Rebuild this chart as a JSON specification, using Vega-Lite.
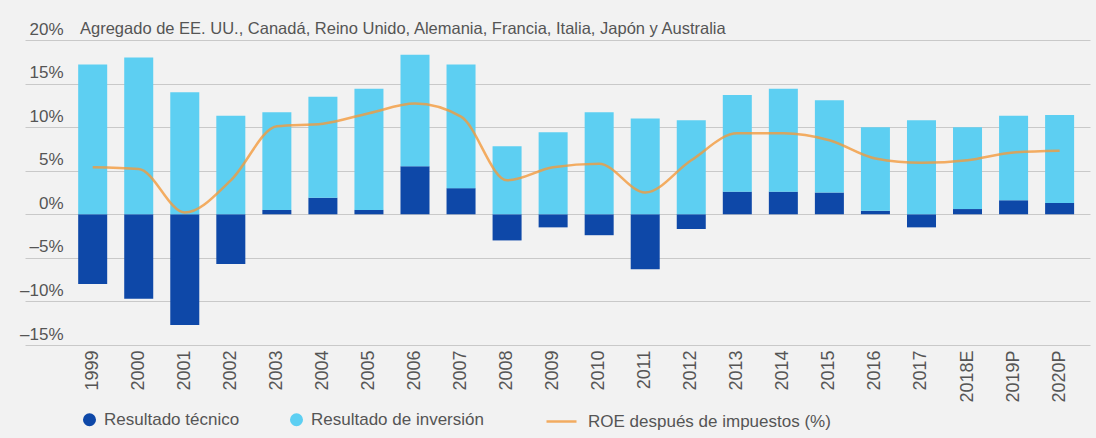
{
  "$schema": "https://vega.github.io/schema/vega-lite/v6.json",
  "width": 1065,
  "height": 305,
  "autosize": {"type": "none"},
  "padding": {"left": 25, "top": 40, "right": 6, "bottom": 93},
  "background": "#f2f2f2",
  "config": {"view": {"stroke": null}, "font": "Liberation Sans"},
  "title": {
    "text": "Agregado de EE. UU., Canadá, Reino Unido, Alemania, Francia, Italia, Japón y Australia",
    "anchor": "start", "frame": "group", "dx": 55, "offset": -30, "baseline": "alphabetic",
    "fontSize": 16.5, "fontWeight": "normal", "color": "#555555"
  },
  "datasets": {
    "bars": [
      {"year": "1999", "serie": "Resultado técnico", "value": -8.0},
      {"year": "1999", "serie": "Resultado de inversión", "value": 17.2},
      {"year": "2000", "serie": "Resultado técnico", "value": -9.7},
      {"year": "2000", "serie": "Resultado de inversión", "value": 18.0},
      {"year": "2001", "serie": "Resultado técnico", "value": -12.7},
      {"year": "2001", "serie": "Resultado de inversión", "value": 14.0},
      {"year": "2002", "serie": "Resultado técnico", "value": -5.7},
      {"year": "2002", "serie": "Resultado de inversión", "value": 11.3},
      {"year": "2003", "serie": "Resultado técnico", "value": 0.5},
      {"year": "2003", "serie": "Resultado de inversión", "value": 11.2},
      {"year": "2004", "serie": "Resultado técnico", "value": 1.9},
      {"year": "2004", "serie": "Resultado de inversión", "value": 11.6},
      {"year": "2005", "serie": "Resultado técnico", "value": 0.5},
      {"year": "2005", "serie": "Resultado de inversión", "value": 13.9},
      {"year": "2006", "serie": "Resultado técnico", "value": 5.5},
      {"year": "2006", "serie": "Resultado de inversión", "value": 12.8},
      {"year": "2007", "serie": "Resultado técnico", "value": 3.0},
      {"year": "2007", "serie": "Resultado de inversión", "value": 14.2},
      {"year": "2008", "serie": "Resultado técnico", "value": -3.0},
      {"year": "2008", "serie": "Resultado de inversión", "value": 7.8},
      {"year": "2009", "serie": "Resultado técnico", "value": -1.5},
      {"year": "2009", "serie": "Resultado de inversión", "value": 9.4},
      {"year": "2010", "serie": "Resultado técnico", "value": -2.4},
      {"year": "2010", "serie": "Resultado de inversión", "value": 11.7},
      {"year": "2011", "serie": "Resultado técnico", "value": -6.3},
      {"year": "2011", "serie": "Resultado de inversión", "value": 11.0},
      {"year": "2012", "serie": "Resultado técnico", "value": -1.7},
      {"year": "2012", "serie": "Resultado de inversión", "value": 10.8},
      {"year": "2013", "serie": "Resultado técnico", "value": 2.6},
      {"year": "2013", "serie": "Resultado de inversión", "value": 11.1},
      {"year": "2014", "serie": "Resultado técnico", "value": 2.6},
      {"year": "2014", "serie": "Resultado de inversión", "value": 11.8},
      {"year": "2015", "serie": "Resultado técnico", "value": 2.5},
      {"year": "2015", "serie": "Resultado de inversión", "value": 10.6},
      {"year": "2016", "serie": "Resultado técnico", "value": 0.4},
      {"year": "2016", "serie": "Resultado de inversión", "value": 9.6},
      {"year": "2017", "serie": "Resultado técnico", "value": -1.5},
      {"year": "2017", "serie": "Resultado de inversión", "value": 10.8},
      {"year": "2018E", "serie": "Resultado técnico", "value": 0.6},
      {"year": "2018E", "serie": "Resultado de inversión", "value": 9.4},
      {"year": "2019P", "serie": "Resultado técnico", "value": 1.6},
      {"year": "2019P", "serie": "Resultado de inversión", "value": 9.7},
      {"year": "2020P", "serie": "Resultado técnico", "value": 1.3},
      {"year": "2020P", "serie": "Resultado de inversión", "value": 10.1}
    ],
    "roe": [
      {"year": "1999", "roe": 5.4},
      {"year": "2000", "roe": 5.2},
      {"year": "2001", "roe": 0.2},
      {"year": "2002", "roe": 3.9},
      {"year": "2003", "roe": 10.1},
      {"year": "2004", "roe": 10.4},
      {"year": "2005", "roe": 11.6},
      {"year": "2006", "roe": 12.7},
      {"year": "2007", "roe": 11.2},
      {"year": "2008", "roe": 3.9},
      {"year": "2009", "roe": 5.4},
      {"year": "2010", "roe": 5.8},
      {"year": "2011", "roe": 2.5},
      {"year": "2012", "roe": 6.2},
      {"year": "2013", "roe": 9.3},
      {"year": "2014", "roe": 9.3},
      {"year": "2015", "roe": 8.5},
      {"year": "2016", "roe": 6.4},
      {"year": "2017", "roe": 5.9},
      {"year": "2018E", "roe": 6.2},
      {"year": "2019P", "roe": 7.1},
      {"year": "2020P", "roe": 7.3}
    ]
  },
  "layer": [
    {
      "data": {"name": "bars"},
      "mark": {"type": "bar"},
      "encoding": {
        "x": {
          "field": "year", "type": "ordinal",
          "scale": {"paddingInner": 0.37, "paddingOuter": 0.75, "align": 0.77},
          "axis": {
            "title": null, "labelAngle": -90, "labelAlign": "right", "labelBaseline": "middle",
            "labelPadding": 5, "ticks": false, "domain": false, "labelFontSize": 18, "labelColor": "#555555"
          }
        },
        "y": {
          "field": "value", "type": "quantitative", "stack": "zero",
          "scale": {"domain": [-15, 20], "nice": false},
          "axis": {
            "title": null, "values": [-15, -10, -5, 0, 5, 10, 15, 20],
            "labelExpr": "(datum.value < 0 ? '–' + abs(datum.value) : datum.value) + '%'",
            "domain": false, "ticks": false, "labelPadding": -38, "labelAlign": "right",
            "labelBaseline": "alphabetic", "labelOffset": -6, "labelFontSize": 17, "labelColor": "#555555",
            "gridColor": "#c9c9c9", "gridWidth": 1.2
          }
        },
        "color": {
          "field": "serie", "type": "nominal",
          "scale": {"domain": ["Resultado técnico", "Resultado de inversión"], "range": ["#0e48a8", "#5dcff2"]},
          "legend": {
            "orient": "none", "legendX": 56, "legendY": 371, "direction": "horizontal", "title": null,
            "symbolType": "circle", "symbolSize": 170, "labelFontSize": 17, "labelColor": "#555555",
            "labelOffset": 6, "columnPadding": 48, "symbolStrokeWidth": 0, "labelLimit": 400
          }
        },
        "order": {"field": "serie", "sort": "descending"}
      }
    },
    {
      "data": {"name": "roe"},
      "mark": {"type": "line", "interpolate": "monotone", "strokeWidth": 2.5, "opacity": 0.8},
      "encoding": {
        "x": {"field": "year", "type": "ordinal"},
        "y": {"field": "roe", "type": "quantitative"},
        "stroke": {
          "datum": "ROE después de impuestos (%)",
          "scale": {"range": ["#f39a3c"]},
          "legend": {
            "orient": "none", "legendX": 520, "legendY": 365, "title": null,
            "symbolType": "stroke", "symbolSize": 900, "symbolStrokeWidth": 2.5,
            "labelFontSize": 17, "labelColor": "#555555", "labelOffset": 10, "labelLimit": 400
          }
        }
      }
    }
  ]
}
